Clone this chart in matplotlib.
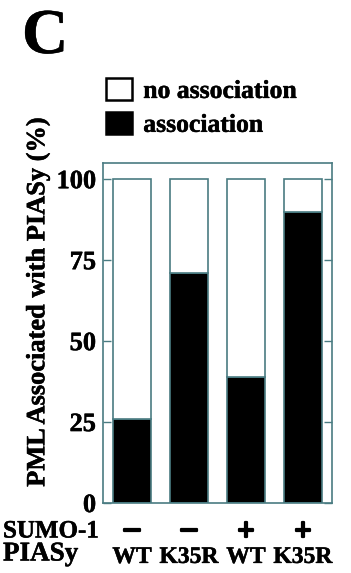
import matplotlib
matplotlib.use('Agg')
import numpy as np
from matplotlib import pyplot as plt
from matplotlib import patheffects as pe

# данные (%)
conditions = ['WT', 'K35R', 'WT', 'K35R']
sumo = ['–', '–', '+', '+']
association = [26, 71, 39, 90]
no_association = [100 - v for v in association]

plt.rcParams['font.family'] = ['Liberation Serif', 'DejaVu Serif']
plt.rcParams['font.weight'] = 'bold'

edge = '#4a7c82'
heavy = [pe.withStroke(linewidth=0.35, foreground='black')]

fig = plt.figure(figsize=(3.51, 5.73), dpi=100)
ax = fig.add_axes([103 / 351, 70 / 573, 229 / 351, 340 / 573])

x = np.arange(len(conditions))
b1 = ax.bar(x, association, width=0.66, color='black', edgecolor=edge, linewidth=1.2)
b2 = ax.bar(x, no_association, bottom=association, width=0.66, color='white',
            edgecolor=edge, linewidth=1.2)

ax.set_xlim(-0.51, 3.51)
ax.set_ylim(0, 105)
ax.set_xticks([])
ax.set_yticks([0, 25, 50, 75, 100])
ax.tick_params(axis='y', direction='in', length=6, width=1, color=edge, right=True,
               labelsize=19, pad=5)
for lbl in ax.get_yticklabels():
    lbl.set_path_effects(heavy)
for s in ax.spines.values():
    s.set_color(edge)
    s.set_linewidth(1.2)

fig.text(38 / 351, 1 - 302 / 573, 'PML Associated with PIASy (%)', rotation=90,
         ha='center', va='center', fontsize=19, fontweight='bold', path_effects=heavy)

fig.text(22 / 351, 1 - 9 / 573, 'C', fontsize=46, fontweight='bold', va='top', ha='left',
         path_effects=heavy)

leg = fig.legend([b2, b1], ['no association', 'association'], loc='upper left',
                 bbox_to_anchor=(106 / 351, 1 - 78 / 573), frameon=False, fontsize=18.5,
                 handlelength=1.0, handleheight=0.95, handletextpad=0.45,
                 labelspacing=0.35, borderpad=0, borderaxespad=0)
for h in leg.legend_handles:
    h.set_edgecolor('black')
    h.set_linewidth(1.8)
for t in leg.get_texts():
    t.set_path_effects(heavy)

tr = ax.get_xaxis_transform()
for i in range(len(conditions)):
    ys = -0.079 if sumo[i] == '–' else -0.088
    ax.text(x[i], ys, sumo[i], transform=tr, ha='center', va='center', fontsize=23,
            fontweight='bold', path_effects=[pe.withStroke(linewidth=1.6, foreground='black')])
    ax.text(x[i], -0.16, conditions[i], transform=tr, ha='center', va='center', fontsize=17,
            fontweight='bold', path_effects=heavy)
fig.text(3 / 351, 1 - 531 / 573, 'SUMO-1', ha='left', va='center', fontsize=18,
         fontweight='bold', path_effects=heavy)
fig.text(3 / 351, 1 - 554 / 573, 'PIASy', ha='left', va='center', fontsize=19.5,
         fontweight='bold', path_effects=heavy)

fig.savefig('out.png', dpi=100)
